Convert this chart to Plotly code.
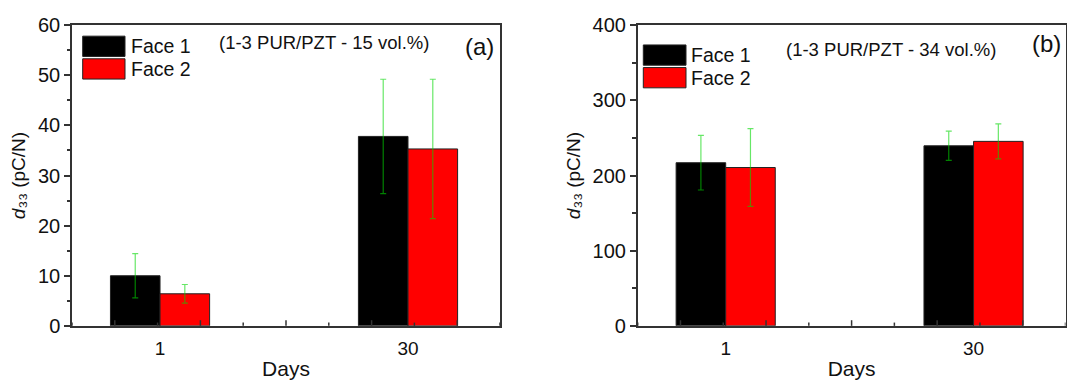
import plotly.graph_objects as go

# ---------------- data ----------------
days = ["1", "30"]

face1_a = [10.0, 37.8]
face1_a_err = [4.4, 11.4]
face2_a = [6.4, 35.3]
face2_a_err = [1.85, 13.9]

face1_b = [217.0, 239.5]
face1_b_err = [36.3, 19.4]
face2_b = [210.6, 245.4]
face2_b_err = [51.7, 23.3]

series_names = ["Face 1", "Face 2"]
panel_notes = ["(1-3 PUR/PZT - 15 vol.%)", "(1-3 PUR/PZT - 34 vol.%)"]
panel_tags = ["(a)", "(b)"]

# ---------------- style ----------------
W, H = 1067, 384
FONT = "Liberation Sans, Arial, sans-serif"
AX = "#333333"
TXT = "#111111"
ERR = "rgba(0,215,0,0.6)"
colors = ["#000000", "#ff0000"]

def fx(p):
    return p / W

def fy(p):
    return 1 - p / H

xpos = list(range(len(days)))
x_lo, x_hi = -0.355, 1.371
ticks_all = [x_lo + k * (x_hi - x_lo) / 10 for k in range(11)]

PLOT_H = 334 - 15  # pixel height of plot area

fig = go.Figure()

def add_bars(vals, errs, name, color, xa, ya):
    fig.add_trace(go.Bar(
        x=xpos, y=vals, name=name, xaxis=xa, yaxis=ya,
        marker=dict(color=color, line=dict(color="#222222", width=1)),
        error_y=dict(type="data", array=errs, visible=True,
                     color=ERR, thickness=1.2, width=3),
        showlegend=False,
    ))

add_bars(face1_a, face1_a_err, series_names[0], colors[0], "x", "y")
add_bars(face2_a, face2_a_err, series_names[1], colors[1], "x", "y")
add_bars(face1_b, face1_b_err, series_names[0], colors[0], "x2", "y2")
add_bars(face2_b, face2_b_err, series_names[1], colors[1], "x2", "y2")

dom_a = [fx(72), fx(500)]
dom_b = [fx(637.7), fx(1065.5)]
dom_y = [fy(334), fy(15)]

def x_axis(domain, anchor):
    return dict(
        domain=domain, anchor=anchor, range=[x_lo, x_hi],
        tickmode="array", tickvals=xpos, ticktext=days,
        ticks="outside", ticklen=5, tickcolor="rgba(0,0,0,0)",
        tickfont=dict(family=FONT, size=19, color=TXT),
        showline=True, linecolor=AX, linewidth=1.5, mirror=True,
        showgrid=False, zeroline=False,
        title=dict(text="Days", font=dict(family=FONT, size=21, color=TXT), standoff=3),
    )

def y_axis(domain, anchor, rng, dt):
    return dict(
        domain=domain, anchor=anchor, range=rng, dtick=dt, tick0=0,
        ticks="outside", ticklen=6, tickwidth=1.5, tickcolor=AX,
        minor=dict(dtick=dt / 2, ticks="outside", ticklen=3.5, tickwidth=1.5,
                   tickcolor=AX, showgrid=False),
        tickfont=dict(family=FONT, size=20, color=TXT),
        showline=True, linecolor=AX, linewidth=1.5, mirror=True,
        showgrid=False, zeroline=False,
        title=dict(text="<i>d</i>\u2083\u2083 (pC/N)",
                   font=dict(family=FONT, size=19, color=TXT), standoff=7),
    )

shapes = []
annotations = []

# inside tick marks along the bottom axis (alternating long / short)
for xref, yref in (("x", "y domain"), ("x2", "y2 domain")):
    for k, tv in enumerate(ticks_all):
        ln = 6 if k % 2 == 1 else 3.5
        shapes.append(dict(type="line", xref=xref, yref=yref, x0=tv, x1=tv,
                           y0=0, y1=ln / PLOT_H, line=dict(color=AX, width=1.5),
                           layer="above"))

def add_legend(x0, x1, y_top, sw_h, gap, text_x):
    for i, (name, col) in enumerate(zip(series_names, colors)):
        t = y_top + i * (sw_h + gap)
        shapes.append(dict(type="rect", xref="paper", yref="paper",
                           x0=fx(x0), x1=fx(x1), y0=fy(t + sw_h), y1=fy(t),
                           fillcolor=col, line=dict(color="#222222", width=1)))
        annotations.append(dict(text=name, xref="paper", yref="paper",
                                x=fx(text_x), y=fy(t + sw_h / 2), xanchor="left", yanchor="middle",
                                showarrow=False, font=dict(family=FONT, size=19.5, color=TXT)))

add_legend(82.7, 125, 26.7, 21.5, 2.5, 129)
add_legend(643.3, 686, 36, 21.5, 2.5, 689)

annotations.append(dict(text=panel_notes[0], xref="paper", yref="paper", x=fx(324), y=fy(33.5),
                        xanchor="center", yanchor="middle", showarrow=False,
                        font=dict(family=FONT, size=18.5, color=TXT)))
annotations.append(dict(text=panel_notes[1], xref="paper", yref="paper", x=fx(890.7), y=fy(41),
                        xanchor="center", yanchor="middle", showarrow=False,
                        font=dict(family=FONT, size=18.5, color=TXT)))
annotations.append(dict(text=panel_tags[0], xref="paper", yref="paper", x=fx(479), y=fy(37.5),
                        xanchor="center", yanchor="middle", showarrow=False,
                        font=dict(family=FONT, size=24, color=TXT)))
annotations.append(dict(text=panel_tags[1], xref="paper", yref="paper", x=fx(1046), y=fy(35),
                        xanchor="center", yanchor="middle", showarrow=False,
                        font=dict(family=FONT, size=24, color=TXT)))

fig.update_layout(
    width=W, height=H, autosize=False,
    margin=dict(l=0, r=0, t=0, b=0),
    paper_bgcolor="white", plot_bgcolor="white",
    barmode="group", bargap=0.6, bargroupgap=0,
    font=dict(family=FONT, color=TXT),
    showlegend=False,
    xaxis=x_axis(dom_a, "y"),
    xaxis2=x_axis(dom_b, "y2"),
    yaxis=y_axis(dom_y, "x", [0, 60], 10),
    yaxis2=y_axis(dom_y, "x2", [0, 400], 100),
    shapes=shapes,
    annotations=annotations,
)

fig.write_html("out.html")
